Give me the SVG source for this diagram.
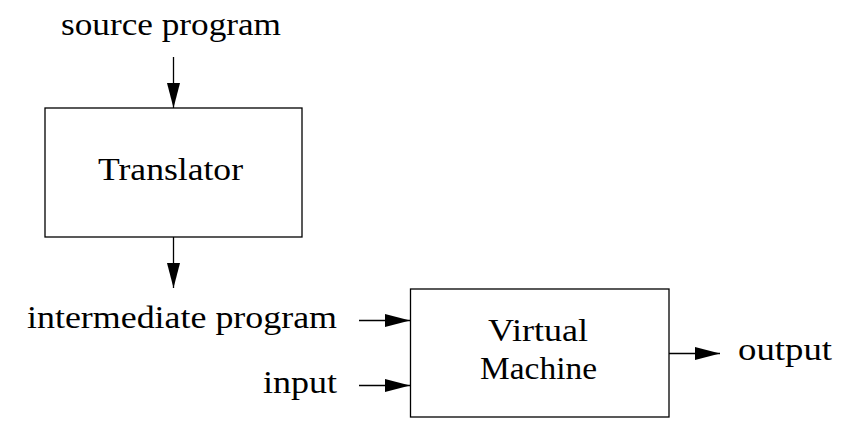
<svg xmlns="http://www.w3.org/2000/svg" width="857" height="444" viewBox="0 0 857 444">
<defs>
<style>
.box{fill:#fff;stroke:#000;stroke-width:1.3}
.t{font-family:"Liberation Serif","Times New Roman",serif;font-size:32px;fill:#000}
.c{stroke:#000;stroke-width:1.3;fill:none;marker-end:url(#ah)}
</style>
<marker id="ah" markerUnits="userSpaceOnUse" markerWidth="26" markerHeight="14" refX="25" refY="6.5" orient="auto">
<path d="M0,0 L25,6.5 L0,13 Z" fill="#000"/>
</marker>
</defs>
<rect width="857" height="444" fill="#fff"/>
<g id="connectors">
<line class="c" x1="173.5" y1="57" x2="173.5" y2="108"/>
<line class="c" x1="173.5" y1="237" x2="173.5" y2="288"/>
<line class="c" x1="359" y1="320.5" x2="410" y2="320.5"/>
<line class="c" x1="359" y1="385.5" x2="410" y2="385.5"/>
<line class="c" x1="669" y1="353.5" x2="720" y2="353.5"/>
</g>
<g id="source-program"><text class="t" x="61" y="35" textLength="220" lengthAdjust="spacingAndGlyphs">source program</text></g>
<g id="translator">
<rect class="box" x="45" y="108" width="257" height="129"/>
<text class="t" x="98" y="180" textLength="145" lengthAdjust="spacingAndGlyphs">Translator</text>
</g>
<g id="intermediate-program"><text class="t" x="27" y="328" textLength="310" lengthAdjust="spacingAndGlyphs">intermediate program</text></g>
<g id="input"><text class="t" x="263" y="393" textLength="74" lengthAdjust="spacingAndGlyphs">input</text></g>
<g id="virtual-machine">
<rect class="box" x="410.5" y="289" width="258.5" height="128"/>
<text class="t" x="488" y="341" textLength="100" lengthAdjust="spacingAndGlyphs">Virtual</text>
<text class="t" x="480" y="379" textLength="117" lengthAdjust="spacingAndGlyphs">Machine</text>
</g>
<g id="output"><text class="t" x="738" y="360" textLength="94" lengthAdjust="spacingAndGlyphs">output</text></g>
</svg>
